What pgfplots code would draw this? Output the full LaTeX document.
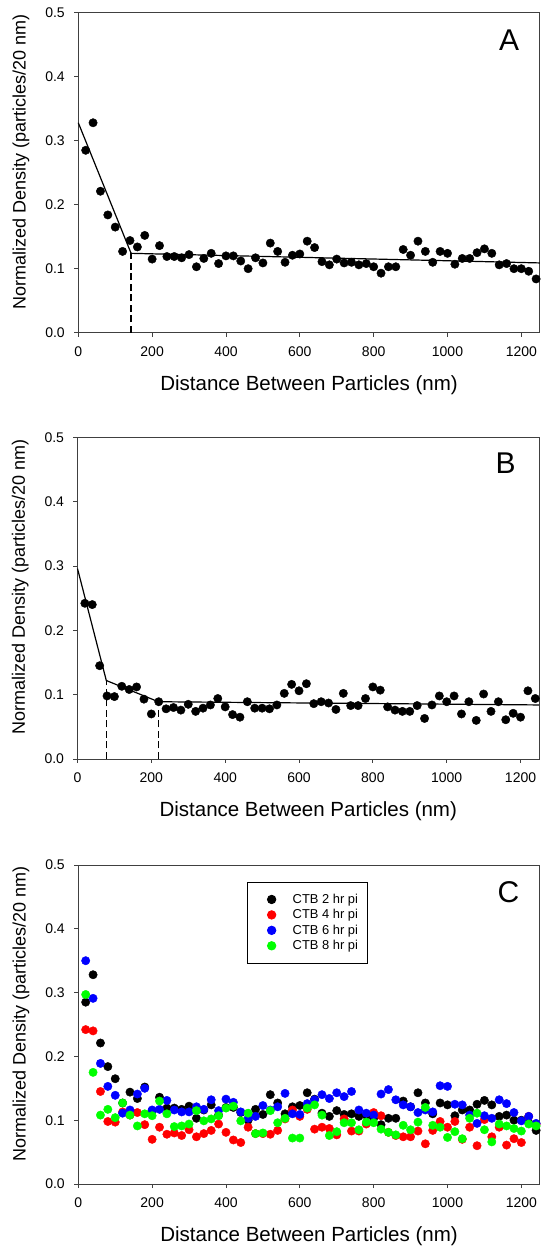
\documentclass[border=0pt]{standalone}
\usepackage{fontspec}
\setmainfont{Liberation Sans}
\usepackage{pgfplots}
\usepackage{pgfplotstable}
\pgfplotsset{compat=1.18}

\pgfplotstableread{
x    A     B     Csix  Ceight
20   0.285 0.242 0.350 0.297
40   0.328 0.240 0.291 0.175
60   0.221 0.145 0.189 0.108
80   0.184 0.098 0.153 0.117
100  0.165 0.097 0.139 0.104
120  0.127 0.113 0.111 0.127
140  0.144 0.108 0.116 0.108
160  0.134 0.112 0.141 0.091
180  0.152 0.093 0.150 0.110
200  0.115 0.070 0.116 0.107
220  0.136 0.089 0.117 0.130
240  0.119 0.078 0.131 0.110
260  0.119 0.080 0.116 0.090
280  0.117 0.076 0.113 0.091
300  0.122 0.085 0.113 0.094
320  0.103 0.074 0.121 0.115
340  0.116 0.079 0.117 0.099
360  0.124 0.084 0.132 0.102
380  0.108 0.094 0.115 0.107
400  0.120 0.081 0.133 0.119
420  0.120 0.069 0.128 0.122
440  0.112 0.065 0.113 0.099
460  0.100 0.089 0.103 0.111
480  0.117 0.079 0.106 0.079
500  0.109 0.079 0.123 0.080
520  0.140 0.078 0.116 0.115
540  0.127 0.084 0.121 0.096
560  0.110 0.102 0.142 0.103
580  0.121 0.116 0.110 0.072
600  0.123 0.106 0.109 0.072
620  0.143 0.117 0.126 0.119
640  0.133 0.086 0.132 0.124
660  0.111 0.089 0.140 0.108
680  0.106 0.087 0.134 0.076
700  0.115 0.077 0.143 0.082
720  0.109 0.102 0.137 0.096
740  0.110 0.083 0.145 0.096
760  0.106 0.083 0.116 0.085
780  0.108 0.094 0.111 0.097
800  0.103 0.112 0.108 0.096
820  0.093 0.107 0.141 0.086
840  0.103 0.081 0.148 0.081
860  0.103 0.076 0.132 0.077
880  0.130 0.074 0.124 0.092
900  0.121 0.074 0.121 0.085
920  0.143 0.083 0.112 0.097
940  0.127 0.063 0.116 0.120
960  0.110 0.084 0.113 0.092
980  0.127 0.098 0.154 0.089
1000 0.124 0.089 0.153 0.073
1020 0.107 0.098 0.125 0.082
1040 0.116 0.070 0.124 0.071
1060 0.116 0.089 0.108 0.103
1080 0.125 0.060 0.095 0.111
1100 0.131 0.101 0.107 0.085
1120 0.124 0.074 0.103 0.066
1140 0.106 0.089 0.132 0.094
1160 0.108 0.061 0.126 0.091
1180 0.100 0.071 0.112 0.087
1200 0.100 0.065 0.099 0.083
1220 0.096 0.106 0.106 0.094
1240 0.084 0.094 0.095 0.091
}\data

\pgfplotsset{
  panel/.style={
    scale only axis, width=461.5pt, height=320pt,
    xmin=0, xmax=1250, ymin=0, ymax=0.5,
    xtick={0,200,400,600,800,1000,1200},
    ytick={0,0.1,0.2,0.3,0.4,0.5},
    tick align=outside, tick pos=left, major tick length=4pt,
    axis line style={black!75, line width=0.8pt},
    every tick/.style={black!75, line width=0.8pt},
    tick label style={font=\fontsize{14}{16}\selectfont},
    /pgf/number format/assume math mode=true,
    xticklabel style={yshift=-6pt, /pgf/number format/1000 sep={}},
    yticklabel style={xshift=-6pt, /pgf/number format/.cd, fixed, fixed zerofill, precision=1},
    xlabel={Distance Between Particles (nm)},
    ylabel={Normalized Density (particles/20 nm)},
    xlabel style={font=\fontsize{20.5}{23}\selectfont, at={(axis description cs:0.5,0)}, anchor=base, yshift=-57.5pt},
    ylabel style={font=\fontsize{18}{21}\selectfont, at={(axis description cs:-0.124,0.534)}, anchor=center},
    clip=false,
  },
  dots/.style={only marks, mark=*, mark size=4.2pt},
}

\begin{document}
\begin{tikzpicture}
\path[use as bounding box] (0pt,0pt) rectangle (543pt,1248pt);

% Panel A
\begin{axis}[panel, at={(78.3pt,915.3pt)}, anchor=south west]
\addplot[black, line width=1.2pt, mark=none] coordinates {(0,0.328) (143,0.124) (1250,0.109)};
\addplot[black, line width=1.4pt, mark=none, dash pattern=on 7pt off 3.5pt] coordinates {(143,0) (143,0.124)};
\addplot[dots, black] table[x=x, y=A] {\data};
\node[font=\fontsize{30}{32}\selectfont, anchor=base east] at (axis description cs:0.963,0.881) {A};
\end{axis}

% Panel B
\begin{axis}[panel, height=321.7pt, at={(77.5pt,489pt)}, anchor=south west]
\addplot[black, line width=1.2pt, mark=none] coordinates {(0,0.296) (78,0.122) (219,0.089) (1250,0.084)};
\addplot[black, line width=1.4pt, mark=none, dash pattern=on 7pt off 3.5pt] coordinates {(78,0) (78,0.122)};
\addplot[black, line width=1.4pt, mark=none, dash pattern=on 7pt off 3.5pt] coordinates {(219,0) (219,0.089)};
\addplot[dots, black] table[x=x, y=B] {\data};
\node[font=\fontsize{30}{32}\selectfont, anchor=base east] at (axis description cs:0.957,0.886) {B};
\end{axis}

% Panel C
\begin{axis}[panel, height=319pt, at={(78.3pt,64pt)}, anchor=south west,
  legend style={at={(axis description cs:0.365,0.948)}, anchor=north west,
    draw=black, line width=0.9pt, fill=white,
    font=\fontsize{12.9}{14}\selectfont,
    inner xsep=5pt, inner ysep=12pt, row sep=4.6pt, column sep=12pt,
    nodes={inner ysep=0pt, inner xsep=4.3pt}},
  legend cell align=left,
  legend image code/.code={\path (-19pt,-4pt) (4.3pt,4pt); \draw[#1] plot coordinates {(0pt,0pt)};},
]
\addplot[dots, black] table[x=x, y=A] {\data};
\addlegendentry{CTB 2 hr pi}
\addplot[dots, red] table[x=x, y=B] {\data};
\addlegendentry{CTB 4 hr pi}
\addplot[dots, blue] table[x=x, y=Csix] {\data};
\addlegendentry{CTB 6 hr pi}
\addplot[dots, green] table[x=x, y=Ceight] {\data};
\addlegendentry{CTB 8 hr pi}
\node[font=\fontsize{30}{32}\selectfont, anchor=base east] at (axis description cs:0.963,0.881) {C};
\end{axis}
\end{tikzpicture}
\end{document}
